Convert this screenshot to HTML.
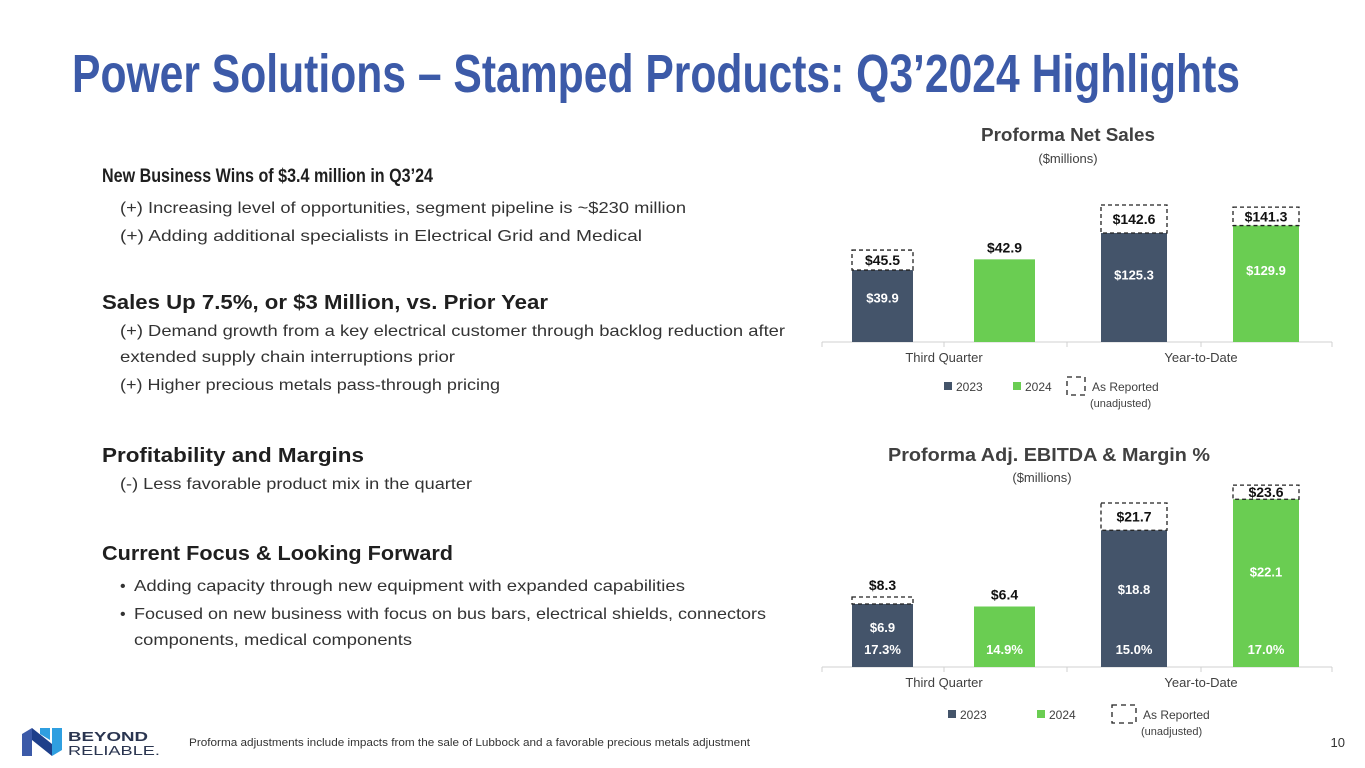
<!DOCTYPE html>
<html><head><meta charset="utf-8"><style>
html,body{margin:0;padding:0;background:#fff;}
svg{display:block;font-family:"Liberation Sans",sans-serif;}
</style></head><body>
<svg id="page" width="1365" height="768" viewBox="0 0 1365 768" xmlns="http://www.w3.org/2000/svg">
<text x="72" y="92" font-size="54" font-weight="bold" fill="#3c5aa8" textLength="1168" lengthAdjust="spacingAndGlyphs">Power Solutions – Stamped Products: Q3’2024 Highlights</text>

<g fill="#1f1f1f">
<text x="102" y="182" font-size="19" font-weight="bold" textLength="331" lengthAdjust="spacingAndGlyphs">New Business Wins of $3.4 million in Q3’24</text>
<text x="120" y="213" font-size="16" fill="#333" textLength="566" lengthAdjust="spacingAndGlyphs">(+) Increasing level of opportunities, segment pipeline is ~$230 million</text>
<text x="120" y="241" font-size="16" fill="#333" textLength="522" lengthAdjust="spacingAndGlyphs">(+) Adding additional specialists in Electrical Grid and Medical</text>
<text x="102" y="309" font-size="20" font-weight="bold" textLength="446" lengthAdjust="spacingAndGlyphs">Sales Up 7.5%, or $3 Million, vs. Prior Year</text>
<text x="120" y="336" font-size="16" fill="#333" textLength="665" lengthAdjust="spacingAndGlyphs">(+) Demand growth from a key electrical customer through backlog reduction after</text>
<text x="120" y="362" font-size="16" fill="#333" textLength="335" lengthAdjust="spacingAndGlyphs">extended supply chain interruptions prior</text>
<text x="120" y="390" font-size="16" fill="#333" textLength="380" lengthAdjust="spacingAndGlyphs">(+) Higher precious metals pass-through pricing</text>
<text x="102" y="462" font-size="20" font-weight="bold" textLength="262" lengthAdjust="spacingAndGlyphs">Profitability and Margins</text>
<text x="120" y="489" font-size="16" fill="#333" textLength="352" lengthAdjust="spacingAndGlyphs">(-) Less favorable product mix in the quarter</text>
<text x="102" y="560" font-size="20" font-weight="bold" textLength="351" lengthAdjust="spacingAndGlyphs">Current Focus &amp; Looking Forward</text>
<text x="120" y="591" font-size="16" fill="#333">•</text>
<text x="134" y="591" font-size="16" fill="#333" textLength="551" lengthAdjust="spacingAndGlyphs">Adding capacity through new equipment with expanded capabilities</text>
<text x="120" y="619" font-size="16" fill="#333">•</text>
<text x="134" y="619" font-size="16" fill="#333" textLength="632" lengthAdjust="spacingAndGlyphs">Focused on new business with focus on bus bars, electrical shields, connectors</text>
<text x="134" y="645" font-size="16" fill="#333" textLength="278" lengthAdjust="spacingAndGlyphs">components, medical components</text>
</g>

<text x="1068" y="141" font-size="18" font-weight="bold" fill="#404040" text-anchor="middle" textLength="174" lengthAdjust="spacingAndGlyphs">Proforma Net Sales</text>
<text x="1068" y="163" font-size="13" fill="#404040" text-anchor="middle">($millions)</text>
<text x="1049" y="461" font-size="18" font-weight="bold" fill="#404040" text-anchor="middle" textLength="322" lengthAdjust="spacingAndGlyphs">Proforma Adj. EBITDA &amp; Margin %</text>
<text x="1042" y="482" font-size="13" fill="#404040" text-anchor="middle">($millions)</text>

<g id="chart1"></g>
<g id="chart2"></g>

<g>
<polygon points="22,734 32,728 32,756 22,756" fill="#3c5aa8"/>
<polygon points="32,728 52,744 52,756 32,740" fill="#1e3f8a"/>
<polygon points="52,728 62,728 62,750 52,756" fill="#2f9fe0"/>
<polygon points="40,728 50,728 50,740 40,734" fill="#2f9fe0"/>
<text x="68" y="741" font-size="13" font-weight="bold" fill="#2a3550" textLength="80" lengthAdjust="spacingAndGlyphs">BEYOND</text>
<text x="68" y="755" font-size="13" fill="#2a3550" textLength="92" lengthAdjust="spacingAndGlyphs">RELIABLE.</text>
</g>
<text x="189" y="746" font-size="11" fill="#333" textLength="561" lengthAdjust="spacingAndGlyphs">Proforma adjustments include impacts from the sale of Lubbock and a favorable precious metals adjustment</text>
<text x="1345" y="747" font-size="13" fill="#333" text-anchor="end">10</text>
</svg>
<script>
// Net Sales data
const salesCategories = ["Third Quarter", "Year-to-Date"];
const sales2023 = [39.9, 125.3];
const sales2024 = [42.9, 129.9];
const salesReported2023 = [45.5, 142.6];
const salesReported2024 = [null, 141.3];
// EBITDA data
const ebitdaCategories = ["Third Quarter", "Year-to-Date"];
const ebitda2023 = [6.9, 18.8];
const ebitda2024 = [6.4, 22.1];
const ebitdaReported2023 = [8.3, 21.7];
const ebitdaReported2024 = [null, 23.6];
const margin2023 = ["17.3%", "15.0%"];
const margin2024 = ["14.9%", "17.0%"];

const NS = "http://www.w3.org/2000/svg";
function mk(parent, tag, attrs, txt){
  const e = document.createElementNS(NS, tag);
  for (const k in attrs) e.setAttribute(k, attrs[k]);
  if (txt !== undefined) e.textContent = txt;
  parent.appendChild(e);
  return e;
}
const NAVY = "#44546a", GREEN = "#6acd52";

function drawChart(g, cfg){
  const base = cfg.base;
  const yScale = (ci, v) => base - (cfg.offsets[ci] + v * cfg.slopes[ci]);
  const ax = mk(g, "line", {x1:822, x2:1332, y1:base, y2:base, stroke:"#d0d0d0", "stroke-width":1});
  
  
  [822, 944, 1067, 1201, 1332].forEach(x => {
    const t = mk(g, "line", {x1:x, x2:x, y1:base, y2:base+5, stroke:"#d0d0d0"});
    
    
  });
  const catCenters = [944, 1201];
  const barX = [[852, 974], [1101, 1233]];
  const barW = [61, 66];
  cfg.categories.forEach((c, ci) => {
    const lbl = mk(g, "text", {x:catCenters[ci], y:base+20, "font-size":13, fill:"#404040", "text-anchor":"middle"}, c);
    
    
    [[cfg.s23, cfg.r23, NAVY, cfg.m23], [cfg.s24, cfg.r24, GREEN, cfg.m24]].forEach((ser, si) => {
      const v = ser[0][ci], rep = ser[1][ci];
      const x = barX[ci][si], w = barW[ci];
      const top = yScale(ci, v);
      const bar = mk(g, "rect", {x:x, y:top, width:w, height:base-top, fill:ser[2]});
      
      
      const h = base - top;
      let inner = rep !== null || (ci === 1);
      if (rep !== null) {
        const rt = yScale(ci, rep);
        const box = mk(g, "rect", {x:x, y:rt, width:w, height:top-rt, fill:"none", stroke:"#222", "stroke-width":1.3, "stroke-dasharray":"4,3"});
        
        
        const insideBox = (top - rt) >= 14;
        const ly = insideBox ? (rt + top) / 2 + 5 : rt - 7;
        const rl = mk(g, "text", {x:x+w/2, y:ly, "font-size":14, "font-weight":"bold", fill:"#111", "text-anchor":"middle"}, "$" + rep.toFixed(1));
        
        
      }
      if (inner) {
        let cy = top + h * cfg.valFrac;
        if (cfg.m23) cy = Math.min(cy, base - 40);
        const vl = mk(g, "text", {x:x+w/2, y:cy + 5, "font-size":13, "font-weight":"bold", fill:"#fff", "text-anchor":"middle"}, "$" + v.toFixed(1));
        
        
      } else {
        const vl = mk(g, "text", {x:x+w/2, y:top - 7, "font-size":14, "font-weight":"bold", fill:"#111", "text-anchor":"middle"}, "$" + v.toFixed(1));
        
        
      }
      if (ser[3]) {
        const ml = mk(g, "text", {x:x+w/2, y:base - 13, "font-size":13, "font-weight":"bold", fill:"#fff", "text-anchor":"middle"}, ser[3][ci]);
        
        
      }
    });
  });
  const L = cfg.legend;
  const s1 = mk(g, "rect", {x:L.sq1, y:L.y-9, width:8, height:8, fill:NAVY});
  
  
  const t1 = mk(g, "text", {x:L.sq1+12, y:L.y, "font-size":12, fill:"#404040"}, "2023");
  
  
  const s2 = mk(g, "rect", {x:L.sq2, y:L.y-9, width:8, height:8, fill:GREEN});
  
  
  const t2 = mk(g, "text", {x:L.sq2+12, y:L.y, "font-size":12, fill:"#404040"}, "2024");
  
  
  const bx = mk(g, "rect", {x:L.box, y:L.y-14, width:L.bw, height:18, fill:"none", stroke:"#222", "stroke-width":1.3, "stroke-dasharray":"5,4"});
  
  
  const t3 = mk(g, "text", {x:L.box+L.bw+7, y:L.y, "font-size":12, fill:"#404040"}, "As Reported");
  
  
  const t4 = mk(g, "text", {x:L.box+L.bw+5, y:L.y+16, "font-size":11, fill:"#404040"}, "(unadjusted)");
  
  
}

drawChart(document.getElementById("chart1"), {
  base:342, offsets:[-70.5, -94], slopes:[3.57, 1.62], categories:salesCategories,
  s23:sales2023, s24:sales2024, r23:salesReported2023, r24:salesReported2024,
  m23:null, m24:null, valFrac:0.38,
  legend:{y:391, sq1:944, sq2:1013, box:1067, bw:18}
});
drawChart(document.getElementById("chart2"), {
  base:667, offsets:[28.5, -40], slopes:[5.0, 9.4], categories:ebitdaCategories,
  s23:ebitda2023, s24:ebitda2024, r23:ebitdaReported2023, r24:ebitdaReported2024,
  m23:margin2023, m24:margin2024, valFrac:0.43,
  legend:{y:719, sq1:948, sq2:1037, box:1112, bw:24}
});
</script>
</body></html>
